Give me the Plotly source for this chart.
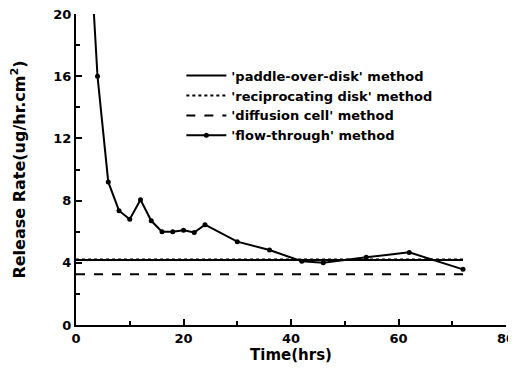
import plotly.graph_objects as go

# Data
flow_time = [2, 4, 6, 8, 10, 12, 14, 16, 18, 20, 22, 24, 30, 36, 42, 46, 54, 62, 72]
flow_rate = [28.0, 16.0, 9.2, 7.35, 6.8, 8.05, 6.7, 6.0, 6.0, 6.1, 5.95, 6.45, 5.36, 4.82, 4.1, 4.0, 4.35, 4.67, 3.58]

const_time = [0, 72]
paddle_rate = [4.18, 4.18]
recip_rate = [4.22, 4.22]
diffusion_rate = [3.26, 3.26]

x_ticks = [0, 20, 40, 60, 80]
y_ticks = [0, 4, 8, 12, 16, 20]

FONT = "DejaVu Sans"

fig = go.Figure()
fig.add_trace(go.Scatter(x=const_time, y=paddle_rate, mode="lines",
                         line=dict(color="black", width=2, dash="solid"),
                         name="'paddle-over-disk' method"))
fig.add_trace(go.Scatter(x=const_time, y=recip_rate, mode="lines",
                         line=dict(color="black", width=2, dash="dot"),
                         name="'reciprocating disk' method"))
fig.add_trace(go.Scatter(x=const_time, y=diffusion_rate, mode="lines",
                         line=dict(color="black", width=2, dash="dash"),
                         name="'diffusion cell' method"))
fig.add_trace(go.Scatter(x=flow_time, y=flow_rate, mode="lines+markers",
                         line=dict(color="black", width=2),
                         marker=dict(color="black", size=5, symbol="circle"),
                         name="'flow-through' method"))

# page body has an 8px margin, so the figure is sized to fill the rest
fig.update_layout(
    width=508, height=366,
    margin=dict(l=68, r=10, t=6, b=49),
    paper_bgcolor="white", plot_bgcolor="white",
    font=dict(family=FONT, color="black", size=13, weight="bold"),
    showlegend=True,
    legend=dict(x=0.245, y=0.85, xanchor="left", yanchor="top",
                bgcolor="rgba(0,0,0,0)", font=dict(size=13, family=FONT, weight="bold"),
                tracegroupgap=0, itemwidth=40),
    xaxis=dict(range=[0, 80], tickvals=x_ticks, ticks="inside", ticklen=6,
               tickwidth=1.5, tickcolor="black", automargin=False,
               ticklabeloverflow="allow",
               minor=dict(tickvals=[10, 30, 50, 70], ticks="inside", ticklen=4, tickcolor="black"),
               showline=True, linecolor="black", linewidth=2, showgrid=False, zeroline=False,
               tickfont=dict(size=13, family=FONT, weight="bold"),
               title=dict(text="Time(hrs)", font=dict(size=15, family=FONT, weight="bold"), standoff=0)),
    yaxis=dict(range=[0, 20], tickvals=y_ticks, ticks="inside", ticklen=6,
               tickwidth=1.5, tickcolor="black", automargin=False,
               ticklabeloverflow="allow",
               minor=dict(tickvals=[2, 6, 10, 14, 18], ticks="inside", ticklen=4, tickcolor="black"),
               showline=True, linecolor="black", linewidth=2, showgrid=False, zeroline=False,
               tickfont=dict(size=13, family=FONT, weight="bold"),
               title=dict(text="Release Rate(ug/hr.cm<sup>2</sup>)", font=dict(size=16, family=FONT, weight="bold"), standoff=24)),
)

fig.write_html("out.html")
